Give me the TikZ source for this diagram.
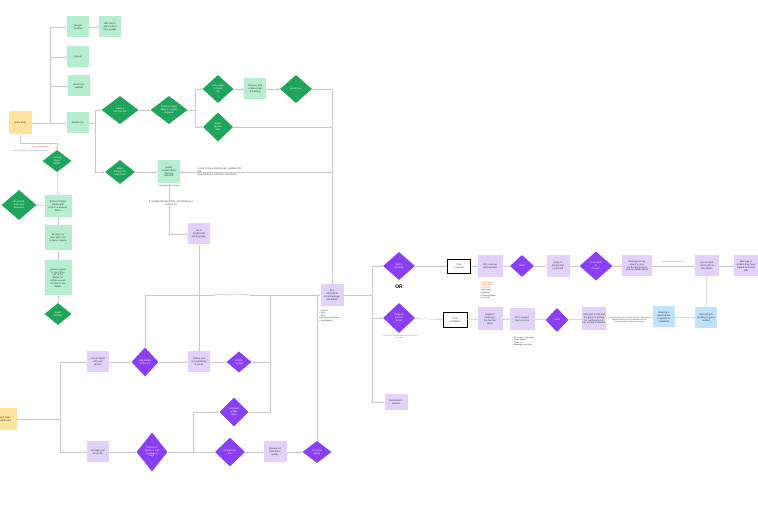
\documentclass[tikz,border=0pt]{standalone}
\usepackage{fontspec}
\setmainfont{Liberation Sans}
\usetikzlibrary{shapes.geometric,arrows.meta}
\definecolor{mintc}{HTML}{B5EFD0}
\definecolor{greenc}{HTML}{1FA45C}
\definecolor{purplec}{HTML}{8A3FF2}
\definecolor{lpurple}{HTML}{E2D2FA}
\definecolor{bluec}{HTML}{BEE3FA}
\definecolor{yellowc}{HTML}{FDE49E}
\definecolor{linec}{HTML}{C9C9C9}
\definecolor{orangec}{HTML}{E8711C}
\definecolor{redc}{HTML}{E53935}
\definecolor{txt}{HTML}{333333}
\tikzset{
  every node/.style={font=\fontsize{2.4}{2.9}\selectfont, align=center, inner sep=0.5pt, text=txt},
  boxbase/.style={rectangle, minimum width=22pt, minimum height=21pt},
  mint/.style={boxbase, fill=mintc},
  lp/.style={boxbase, fill=lpurple},
  bl/.style={boxbase, fill=bluec},
  yel/.style={boxbase, fill=yellowc},
  wbox/.style={rectangle, draw=black, line width=0.4pt, fill=white, minimum width=23pt, minimum height=14pt},
  gd/.style 2 args={diamond, fill=greenc, text=white, inner sep=0pt, minimum width=#1pt, minimum height=#2pt},
  pd/.style 2 args={diamond, fill=purplec, text=white, inner sep=0pt, minimum width=#1pt, minimum height=#2pt},
  note/.style={font=\fontsize{2}{2.5}\selectfont, fill=white, inner sep=0.3pt},
  lbl/.style={font=\fontsize{2.2}{2.8}\selectfont, align=left},
  lst/.style={font=\fontsize{2}{2.6}\selectfont, align=left, anchor=north west},
  ln/.style={draw=linec, line width=0.5pt},
  conn/.style={ln, -{Stealth[length=2pt,width=2pt]}}
}
\begin{document}
\begin{tikzpicture}[x=1pt,y=-1pt]
\useasboundingbox[fill=white] (0,0) rectangle (758,510);

% ---------- top-left (guest) ----------
\node[yel, minimum width=23pt, minimum height=23pt] (home) at (20,123) {Home page};
\node[mint] (google) at (78,27) {Google\\location};
\node[mint] (gedit) at (110,27) {Edit text to\\add location\\from google};
\node[mint] (signup) at (78,57) {Sign up};
\node[mint] (bookweb) at (79,86) {Book from\\website};
\node[mint] (search) at (78,123) {Search bar};
\node[gd={37}{28}] (city) at (120,110) {Select a\\city from list};
\node[gd={37}{28}] (dates) at (169,110) {Check \& select\\dates \& number\\of guests};
\node[gd={31}{28}] (seldate) at (218,89) {Select date\\\& check\\rate};
\node[mint] (choose) at (255,89) {Choose / Edit\\a date range\\\& booking};
\node[gd={32}{28}] (booknow) at (296,89) {Book now};
\node[gd={30}{29}] (specdate) at (218,127) {Select\\specific\\date};
\node[gd={30}{24}] (selloc) at (120,172) {Select\\location on\\search bar};
\node[mint, minimum height=23pt] (mapsel) at (169,172) {Select\\location from\\the map\\with pins};
\node[lp] (golist) at (199,234) {Go to\\location list\\landing page};

% left column
\node[gd={29}{22}] (objdet) at (57,161) {Look at\\object\\details};
\node[gd={35}{30}] (bmk) at (19,205) {Bookmark\\and mark\\favourites};
\node[mint, minimum width=27pt, minimum height=22pt] (browse) at (58,206) {Browse listings\\details with\\photos \& amenity\\filters};
\node[mint, minimum width=27pt, minimum height=25pt] (bitmore) at (58,238) {Bit more on\\map with a list\\of places nearby};
\node[mint, minimum width=27pt, minimum height=35pt] (selspace) at (58,278) {Select a space\\to see if they\\are all the\\details as\\picture as well\\as click to see\\details};
\node[gd={27}{22}] (selloc2) at (58,314) {Select\\location};

% central
\node[lp, minimum width=23pt, minimum height=22pt] (info) at (332,295) {See\\information\\on listing page\\with details};
\node[lst] (infolist) at (319,309) {\textbullet\ Location\\\textbullet\ Price\\\textbullet\ Map\\\textbullet\ Reviews and ratings\\\textbullet\ Any disability};

% right rows
\node[pd={32}{28}] (start) at (399,266) {Start a\\booking};
\node[font=\fontsize{5}{6}\selectfont\bfseries, text=black] (or) at (399,287) {OR};
\node[pd={32}{30}] (request) at (399,318) {Request\\to book\\(host)};
\node[font=\fontsize{2}{2.6}\selectfont, text=orangec, anchor=north] (reqnote) at (400,334) {if host has not accepted booking within\\24 hours};
\node[lp, minimum width=23pt, minimum height=16pt] (wish) at (396,402) {Bookmark to\\wishlist};

\node[wbox] (pick1) at (459,266) {Pick\\1 person};
\node[lp, minimum width=25pt, minimum height=22pt] (fill) at (490,266) {Fill in pick-up\\and payment};
\node[lst] (filllist) at (480,281) {\textcolor{orangec}{\textbullet\ Card number}\\\textcolor{orangec}{\textbullet\ Expiry date}\\\textcolor{orangec}{\textbullet\ CVV code}\\\textbullet\ Full name\\\textbullet\ Address\\\textbullet\ Country/Region\\\textbullet\ Zip code};
\node[pd={24}{22}] (book) at (522,266) {Book};
\node[lp, minimum width=23pt, minimum height=22pt] (apply) at (558,266) {Apply to\\temporarily\\confirmed};
\node[pd={33}{29}] (hostacc) at (596,266) {Host needs\\to\\accept};
\node[lp, minimum width=30pt, minimum height=21pt] (msg) at (637,266) {Message to say\\space to your\\confirmation has a\\pick-up details email};
\node[lp, minimum width=24pt, minimum height=21pt] (alert) at (707,266) {Get an alert\\email with all\\the details};
\node[lp, minimum width=24pt, minimum height=21pt] (confirm) at (746,266) {Message to\\confirm they have\\signed up \& sent\\info};

\node[wbox, minimum width=24pt, minimum height=15pt] (pickc) at (455,320) {Pick\\conditions};
\node[lp, minimum width=25pt, minimum height=23pt] (reqbook) at (490,319) {Request\\booking to\\the host for\\dates};
\node[lp, minimum width=25pt, minimum height=22pt] (fillreq) at (522,319) {Fill in request\\Step process};
\node[lst] (reqlist) at (512,336) {\textbullet\ First name / last name\\\textbullet\ Email address\\\textbullet\ Phone no\\\textbullet\ Message to the host\\...};
\node[pd={23}{24}] (send) at (557,320) {Send};
\node[lp, minimum width=23pt, minimum height=23pt] (hostmail) at (594,319) {Host gets a mail that\\the guest is waiting\\for confirmation \&\\can accept or decline};
\node[bl] (rejected) at (664,317) {Booking is\\rejected due\\to guests or\\conditions};
\node[bl] (accepts) at (706,318) {Host accepts\\booking \& guest\\notified};

% ---------- bottom-left (host) ----------
\node[yel, minimum width=24pt, minimum height=22pt] (host) at (5,419) {Host Page\\Dashboard};
\node[lp] (listobj) at (98,362) {List an object\\with own\\photos};
\node[pd={27}{29}] (adddet) at (145,362) {Add details\\of the unit};
\node[lp] (define) at (199,362) {Define and\\set availability\\\& prices};
\node[pd={25}{21}] (publish) at (239,362) {Publish\\on map};
\node[lp] (manage) at (98,452) {Manage your\\list profile};
\node[pd={31}{39}] (choosedel) at (152,452) {Choose to\\delete or edit\\booking or\\stop};
\node[pd={29}{29}] (editrate) at (234,412) {Edit and\\update\\rates};
\node[pd={30}{29}] (stats) at (230,452) {Check stats\\info};
\node[lp, minimum width=23pt, minimum height=21pt] (manageall) at (275,452) {Manage all\\information\\update};
\node[pd={29}{22}] (golisting) at (317,452) {Go to the\\listing};

% ---------- connectors ----------
\coordinate (hs) at (50,123);
\draw[conn] (home) -- (search);
\draw[conn] (hs) |- (google);
\draw[conn] (hs) |- (signup);
\draw[conn] (hs) |- (bookweb);
\draw[conn] (google) -- (gedit);

\coordinate (ss) at (95,123);
\draw[ln] (search) -- (ss);
\draw[conn] (ss) |- (city);
\draw[conn] (ss) |- (selloc);
\draw[conn] (city) -- (dates);
\coordinate (ds) at (195,110);
\draw[ln] (dates) -- (ds);
\draw[conn] (ds) |- (seldate);
\draw[conn] (ds) |- (specdate);
\draw[conn] (seldate) -- (choose);
\draw[conn] (choose) -- (booknow);
\coordinate (rs) at (332,89);
\coordinate (rs2) at (332,127);
\coordinate (rs3) at (332,172);
\draw[ln] (booknow) -- (rs);
\draw[conn] (rs) -- (info);
\draw[ln] (specdate) -- (rs2);
\draw[conn] (selloc) -- (mapsel);
\draw[ln] (mapsel) -- (rs3);
\draw[conn] (mapsel) |- (golist);
\draw[conn] (golist) -- (define);

\node[lbl, anchor=west] (lab1) at (197,172) {IF ONLY ONE LOCATION AT A GIVEN CITY\\OR\\ONE OBJECT'S SPECIFIC LOCATION};
\node[note] (mapnote) at (169,186) {if a location has no pins};
\node[lbl, align=center, fill=white, inner sep=0.3pt] (lab2) at (171,203) {IF THERE ARE MULTIPLE LOCATIONS IN A\\GIVEN CITY};

% left column
\coordinate (hb) at (20,143);
\coordinate (hb2) at (57,143);
\draw[conn] (home) -- (hb) -- (hb2) -- (objdet);
\node[font=\fontsize{2}{2.5}\selectfont, text=redc] (rednote) at (40,146.5) {no recommended};
\node[font=\fontsize{2}{2.5}\selectfont, text=gray] (graynote) at (31,150.5) {see list of objects (recommended items)};
\draw[conn] (objdet) -- (browse);
\draw[conn] (browse) -- (bitmore);
\draw[conn] (bitmore) -- (selspace);
\draw[conn] (selspace) -- (selloc2);
\draw[conn] (browse) -- (bmk);

% central and right
\coordinate (cs) at (372,295);
\draw[ln] (info) -- (cs);
\draw[conn] (cs) |- (start);
\draw[conn] (cs) |- (request);
\draw[conn] (cs) |- (wish);
\draw[conn] (start) -- (pick1);
\draw[conn] (pick1) -- (fill);
\draw[conn] (fill) -- (book);
\draw[conn] (book) -- (apply);
\draw[conn] (apply) -- (hostacc);
\draw[conn] (hostacc) -- (msg);
\draw[conn] (msg) -- (alert);
\node[font=\fontsize{1.8}{2.3}\selectfont, text=gray] (msgnote) at (673,262) {Is it the same day at check-in};
\draw[conn] (alert) -- (confirm);
\draw[conn] (request) -- (pickc);
\draw[conn] (pickc) -- (reqbook);
\draw[conn] (reqbook) -- (fillreq);
\draw[conn] (fillreq) -- (send);
\draw[conn] (send) -- (hostmail);
\draw[conn] (hostmail) -- (rejected);
\node[font=\fontsize{1.8}{2.4}\selectfont, fill=white, inner sep=0.3pt] (hmnote) at (629.5,320) {If host accepts within 24 hours you'll be redirected to\\payment and if not get a notification that the\\host declined \& you don't have to pay};
\draw[conn] (rejected) -- (accepts);
\draw[conn] (accepts) -- (alert);

% bottom host flow
\coordinate (bs) at (60,419);
\draw[ln] (host) -- (bs);
\draw[conn] (bs) |- (listobj);
\draw[conn] (bs) |- (manage);
\draw[conn] (listobj) -- (adddet);
\draw[conn] (adddet) -- (define);
\draw[conn] (define) -- (publish);
\coordinate (ha) at (145,295);
\draw[conn] (adddet) -- (ha) -- (info);
\node[font=\fontsize{1.8}{2.3}\selectfont, fill=white, inner sep=0.3pt, text=gray] (hnote) at (232,295) {Guests see their object on the listing page};
\coordinate (v270) at (270,362);
\coordinate (v270t) at (270,295);
\draw[ln] (publish) -- (v270);
\draw[ln] (editrate) -| (v270t);
\coordinate (b193) at (193,452);
\draw[conn] (manage) -- (choosedel);
\draw[ln] (choosedel) -- (b193);
\draw[conn] (b193) -- (stats);
\draw[conn] (b193) |- (editrate);
\draw[conn] (stats) -- (manageall);
\draw[conn] (manageall) -- (golisting);
\coordinate (v317) at (317,295);
\draw[ln] (golisting) -- (v317);
\end{tikzpicture}
\end{document}
